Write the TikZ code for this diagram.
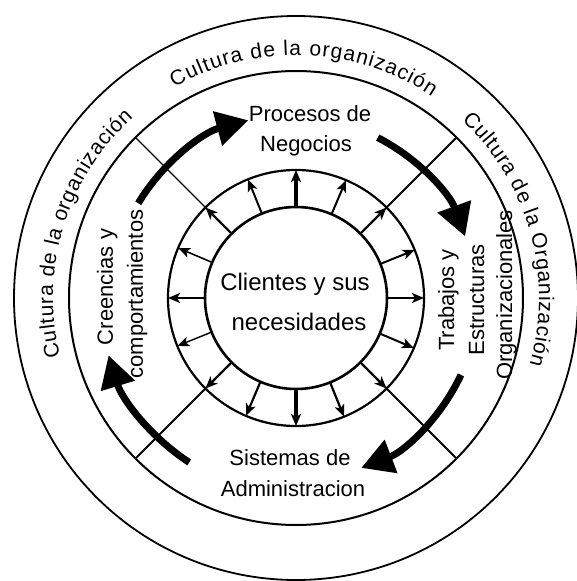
\documentclass[tikz,border=0pt]{standalone}
\usepackage{fontspec}
\setmainfont{Liberation Sans}
\usetikzlibrary{arrows.meta,decorations.text}
\begin{document}
\begin{tikzpicture}[x=1pt,y=1pt,
  ringc/.style={circle, draw, inner sep=0pt, outer sep=0pt},
  divider/.style={line width=2pt},
  ray/.style={-{Stealth[length=12pt,width=10pt,inset=3pt]}},
  bigarrow/.style={line width=7pt, -{Triangle[length=32pt,width=34pt]}},
  lbl/.style={font=\fontsize{22}{26}\selectfont, inner sep=0pt, anchor=base},
  clbl/.style={font=\fontsize{24}{28}\selectfont, inner sep=0pt, anchor=base},
  arctext/.style={decorate, decoration={text along path, text align=fit to path,
     text={|\fontsize{21}{21}\selectfont|#1}}}
]
\useasboundingbox (-296,-283) rectangle (281,298);
% circles
\node[ringc, line width=1.8pt, minimum size=564pt] (outer) at (0,0) {};
\node[ringc, line width=2pt, minimum size=454pt] (ring) at (0,0) {};
\node[ringc, line width=2.2pt, minimum size=256pt] (mid) at (0,0) {};
\node[ringc, line width=2.6pt, minimum size=182pt] (inner) at (0,0) {};
% dividers
\draw[divider, line width=1.3pt] (mid.135) -- (ring.135);
\draw[divider] (mid.45) -- (ring.45);
\draw[divider] (mid.225) -- (ring.225);
\draw[divider] (mid.315) -- (ring.315);
% radial arrows
\foreach \a/\w in {0/2.2, 22.5/2, 45/2.2, 67.5/2, 90/3.4, 112.5/2, 135/2.2, 157.5/1.6,
                   180/2.4, 202.5/1.4, 225/2.2, 247.5/2.2, 270/3.4, 292.5/2.2, 315/2.2, 337.5/2}
  \draw[ray, line width=\w pt] (inner.\a) -- (mid.\a);
% big curved arrows
\coordinate (b1s) at (149:184pt);
\coordinate (b2s) at (63:180pt);
\coordinate (b3s) at (-25:182pt);
\coordinate (b4s) at (237:196pt);
\draw[bigarrow] (b1s) arc[start angle=149, end angle=105, radius=184pt];
\draw[bigarrow] (b2s) arc[start angle=63, end angle=20, radius=180pt];
\draw[bigarrow] (b3s) arc[start angle=-25, end angle=-69, radius=182pt];
\draw[bigarrow] (b4s) arc[start angle=237, end angle=197, radius=196pt];
% outer ring texts
\path[arctext={Cultura de la organización}] (120:243pt) arc[start angle=120, end angle=56, radius=243pt];
\path[arctext={Cultura de la organización}] (194:243pt) arc[start angle=194, end angle=132, radius=243pt];
\path[arctext={Cultura de la Organización}] (47:243pt) arc[start angle=47, end angle=-16, radius=243pt];
% quadrant texts
\node[lbl] (p1) at (14,176) {Procesos de};
\node[lbl] (p2) at (10,146) {Negocios};
\node[lbl] (s1) at (-6,-167) {Sistemas de};
\node[lbl] (s2) at (-3,-198) {Administracion};
\node[lbl, rotate=90] (c1) at (-183,11) {Creencias y};
\node[lbl, rotate=90] (c2) at (-153,4) {comportamientos};
\node[lbl, rotate=90] (t1) at (158,-2) {Trabajos y};
\node[lbl, rotate=90] (t2) at (188,-2) {Estructuras};
\node[lbl, rotate=90] (t3) at (216,3) {Organizacionales};
% centre
\node[clbl] (n1) at (-1,8) {Clientes y sus};
\node[clbl] (n2) at (3,-32) {necesidades};
\end{tikzpicture}
\end{document}
